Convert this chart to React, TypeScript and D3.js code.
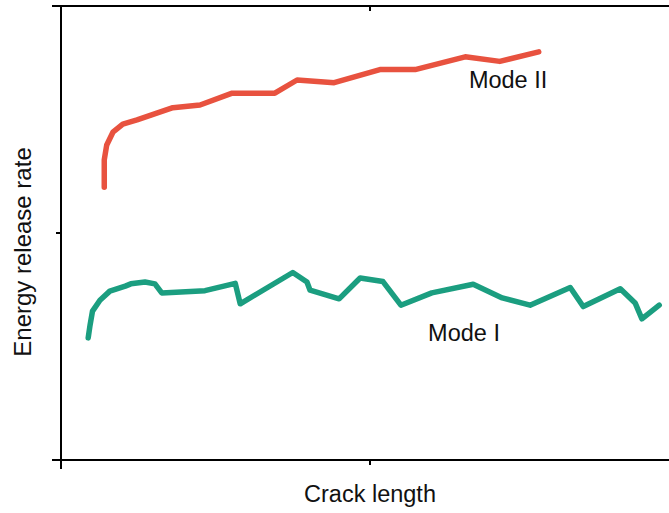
import { useEffect, useRef } from 'react';
import * as d3 from 'd3';

// crack length (arbitrary units) and energy release rate for each mode
const modeIIx = [0.70, 0.70, 0.74, 0.84, 1.00, 1.23, 1.81, 2.25, 2.77, 3.46, 3.82, 4.42, 5.16, 5.73, 6.54, 7.10, 7.73];
const modeIIy = [6.01, 6.61, 6.94, 7.22, 7.40, 7.49, 7.76, 7.82, 8.08, 8.08, 8.37, 8.31, 8.60, 8.60, 8.88, 8.78, 8.99];

const modeIx = [0.44, 0.47, 0.51, 0.63, 0.79, 1.04, 1.13, 1.36, 1.52, 1.63, 2.33, 2.82, 2.90, 3.75, 3.98, 4.03, 4.50, 4.84, 5.21, 5.50, 6.00, 6.67, 7.14, 7.59, 8.24, 8.45, 9.05, 9.29, 9.40, 9.68];
const modeIy = [2.69, 2.97, 3.28, 3.52, 3.72, 3.83, 3.88, 3.92, 3.88, 3.68, 3.73, 3.89, 3.44, 4.13, 3.92, 3.74, 3.55, 4.01, 3.93, 3.41, 3.68, 3.87, 3.57, 3.41, 3.80, 3.38, 3.77, 3.46, 3.11, 3.41];

const xTicks = [5];
const yTicks = [5];

export default function App() {
  const svgRef = useRef<SVGSVGElement>(null);

  useEffect(() => {
    if (!svgRef.current) return;
    const width = 669;
    const height = 513;

    const svg = d3.select(svgRef.current);
    svg.selectAll('*').remove();
    svg.attr('width', width).attr('height', height);

    const x = d3.scaleLinear().domain([0, 10]).range([61, 679]);
    const y = d3.scaleLinear().domain([0, 10]).range([460, 6]);

    const frame = svg.append('g').attr('stroke', '#000').attr('stroke-width', 2);
    // bottom and top lines, both start a bit left of the y axis
    frame.append('line').attr('x1', x(0) - 9).attr('x2', width).attr('y1', y(0)).attr('y2', y(0));
    frame.append('line').attr('x1', x(0) - 9).attr('x2', width).attr('y1', y(10)).attr('y2', y(10));
    // left line, runs a bit below the x axis
    frame.append('line').attr('x1', x(0)).attr('x2', x(0)).attr('y1', y(10)).attr('y2', y(0) + 9);

    // ticks
    frame.selectAll('.tb').data(xTicks).enter().append('line')
      .attr('x1', d => x(d)).attr('x2', d => x(d)).attr('y1', y(0)).attr('y2', y(0) + 5);
    frame.selectAll('.tt').data(xTicks).enter().append('line')
      .attr('x1', d => x(d)).attr('x2', d => x(d)).attr('y1', y(10)).attr('y2', y(10) + 5);
    frame.selectAll('.tl').data(yTicks).enter().append('line')
      .attr('x1', x(0) - 5).attr('x2', x(0)).attr('y1', d => y(d)).attr('y2', d => y(d));

    const line = d3.line<[number, number]>()
      .x(d => x(d[0]))
      .y(d => y(d[1]));

    const series = [
      { xs: modeIIx, ys: modeIIy, color: '#e8523f' },
      { xs: modeIx, ys: modeIy, color: '#1b9e80' },
    ];
    series.forEach(s => {
      const pts = s.xs.map((v, i) => [v, s.ys[i]] as [number, number]);
      svg.append('path')
        .attr('d', line(pts))
        .attr('fill', 'none')
        .attr('stroke', s.color)
        .attr('stroke-width', 5.5)
        .attr('stroke-linejoin', 'round')
        .attr('stroke-linecap', 'round');
    });

    const font = 'Liberation Sans, Arial, Helvetica, sans-serif';
    const labels = [
      { text: 'Mode II', lx: 6.6, ly: 8.2 },
      { text: 'Mode I', lx: 5.94, ly: 2.63 },
    ];
    svg.selectAll('.lab').data(labels).enter().append('text')
      .attr('x', d => x(d.lx))
      .attr('y', d => y(d.ly))
      .attr('font-family', font)
      .attr('font-size', 23.5)
      .attr('fill', '#111')
      .text(d => d.text);

    svg.append('text')
      .attr('x', x(5))
      .attr('y', 502)
      .attr('text-anchor', 'middle')
      .attr('font-family', font)
      .attr('font-size', 23.5)
      .attr('fill', '#111')
      .text('Crack length');

    svg.append('text')
      .attr('transform', `translate(31, 252) rotate(-90)`)
      .attr('text-anchor', 'middle')
      .attr('font-family', font)
      .attr('font-size', 24)
      .attr('fill', '#111')
      .text('Energy release rate');
  }, []);

  return (
    <svg ref={svgRef} style={{ position: 'absolute', left: 0, top: 0, background: '#fff' }} />
  );
}
